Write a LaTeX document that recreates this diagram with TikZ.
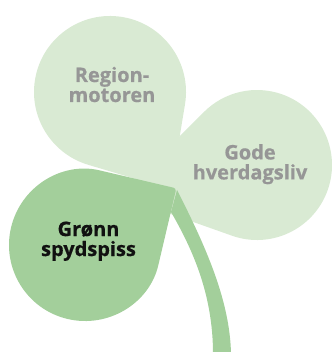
\documentclass[tikz,border=0pt]{standalone}
\usepackage{fontspec}
\usepackage{tikz}
\usetikzlibrary{calc}
\newfontfamily\cloverfont{Open Sans}[BoldFeatures={FakeBold=0.6}]
\definecolor{cloverlight}{RGB}{217, 234, 211}
\definecolor{cloverdark}{RGB}{163, 207, 155}
\definecolor{cloverlabel}{RGB}{150, 150, 150}
\definecolor{cloverink}{RGB}{17, 17, 17}

\begin{document}
\begin{tikzpicture}[x=1pt, y=1pt,
  leaflabel/.style={align=center, inner sep=0pt,
    font=\cloverfont\bfseries\fontsize{20}{20}\selectfont}]
\useasboundingbox (0,0) rectangle (331,352);

% Leaf centres
\coordinate (ctop) at (110,260);
\coordinate (cright) at (257,187);
\coordinate (cleft) at (85,107);

% Top leaf
\fill[cloverlight] ($(ctop)+(-58:115)$) -- ($(ctop)+(-9.37:76)$)
  arc[start angle=-9.37, end angle=253.37, radius=76] -- cycle;

% Right leaf
\fill[cloverlight] ($(cright)+(192.75:140.6)$) -- ($(cright)+(250.5:75)$)
  arc[start angle=250.5, end angle=495, radius=75] -- cycle;

% Stem
\coordinate (stemtop) at (177,162);
\fill[cloverdark] (171,140) .. controls (193,102) and (213,57) .. (213,-2)
  -- (231,-2) .. controls (230,52) and (205,107) .. (stemtop) -- cycle;

% Bottom leaf
\fill[cloverdark, rounded corners=3pt] ($(cleft)+(31.8:107.5)$) -- ($(cleft)+(76.8:76)$)
  arc[start angle=76.8, end angle=346.8, radius=76] -- cycle;

% Labels
\node[leaflabel, text=cloverlabel] (region) at (112,267.5) {Region-\\motoren};
\node[leaflabel, text=cloverlabel] (hverdag) at (250,187.8) {Gode\\hverdagsliv};
\node[leaflabel, text=cloverink] (spydspiss) at (88.5,110.8) {Grønn\\spydspiss};
\end{tikzpicture}
\end{document}
